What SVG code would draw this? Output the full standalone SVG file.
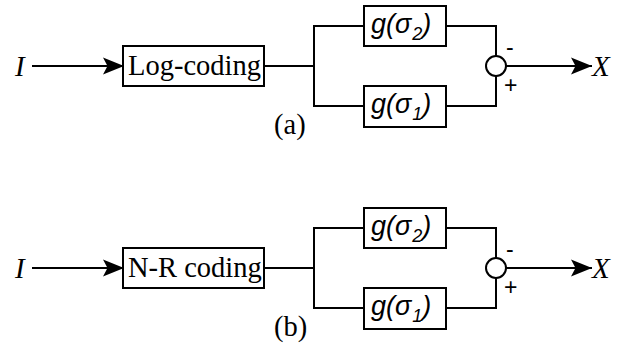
<svg xmlns="http://www.w3.org/2000/svg" width="622" height="347" viewBox="0 0 622 347">
  <style>
    .box { fill: #fff; stroke: #000; stroke-width: 2; }
    .wire { fill: none; stroke: #000; stroke-width: 2; }
    .sum { fill: #fff; stroke: #000; stroke-width: 2; }
    .serif { font-family: "Liberation Serif", "Times New Roman", serif; font-size: 28.5px; fill: #000; }
    .var { font-family: "Liberation Serif", "Times New Roman", serif; font-style: italic; font-size: 29px; fill: #000; }
    .fn { font-family: "Liberation Sans", Arial, sans-serif; font-style: italic; font-size: 27px; fill: #000; }
    .sub { font-size: 18px; }
    .sign { font-family: "Liberation Sans", Arial, sans-serif; font-size: 23px; fill: #000; }
  </style>
  <defs>
    <marker id="arrow" markerUnits="userSpaceOnUse" markerWidth="24" markerHeight="20" refX="21" refY="10" orient="auto">
      <path d="M0,1.5 L21,10 L0,18.5 L4.5,10 Z" fill="#000"/>
    </marker>
    <!-- one complete processing chain, drawn at its own vertical offset -->
    <g id="chain">
      <g class="connectors">
        <line class="wire" x1="32" y1="66" x2="124" y2="66" marker-end="url(#arrow)"/>
        <line class="wire" x1="264" y1="66" x2="314" y2="66"/>
        <polyline class="wire" points="364,26 314,26 314,106 364,106"/>
        <polyline class="wire" points="446,26 496,26 496,56"/>
        <polyline class="wire" points="446,106 496,106 496,76"/>
        <line class="wire" x1="506" y1="66" x2="592" y2="66" marker-end="url(#arrow)"/>
      </g>
      <g id="sigma2">
        <rect class="box" x="364" y="6" width="82" height="40"/>
        <text class="fn" x="371" y="33">g(σ<tspan class="sub" dx="1" dy="7">2</tspan><tspan dy="-7">)</tspan></text>
      </g>
      <g id="sigma1">
        <rect class="box" x="364" y="86" width="82" height="41"/>
        <text class="fn" x="371" y="113">g(σ<tspan class="sub" dx="1" dy="7">1</tspan><tspan dy="-7">)</tspan></text>
      </g>
      <g id="summing">
        <circle class="sum" cx="496" cy="66" r="10"/>
        <text class="sign" x="506" y="55">-</text>
        <text class="sign" x="504" y="93">+</text>
      </g>
      <text class="var" x="15" y="76">I</text>
      <text class="var" x="592" y="76">X</text>
    </g>
  </defs>

  <!-- (a) logarithmic coding -->
  <g id="diagram-a">
    <use href="#chain"/>
    <g id="log-coding">
      <rect class="box" x="123" y="46" width="141" height="40"/>
      <text class="serif" x="128" y="75">Log-coding</text>
    </g>
    <text class="serif" x="274" y="134">(a)</text>
  </g>

  <!-- (b) Naka-Rushton coding -->
  <g id="diagram-b" transform="translate(0,202)">
    <use href="#chain"/>
    <g id="nr-coding">
      <rect class="box" x="123" y="46" width="141" height="40"/>
      <text class="serif" x="128" y="75">N-R coding</text>
    </g>
    <text class="serif" x="274" y="134">(b)</text>
  </g>
</svg>
